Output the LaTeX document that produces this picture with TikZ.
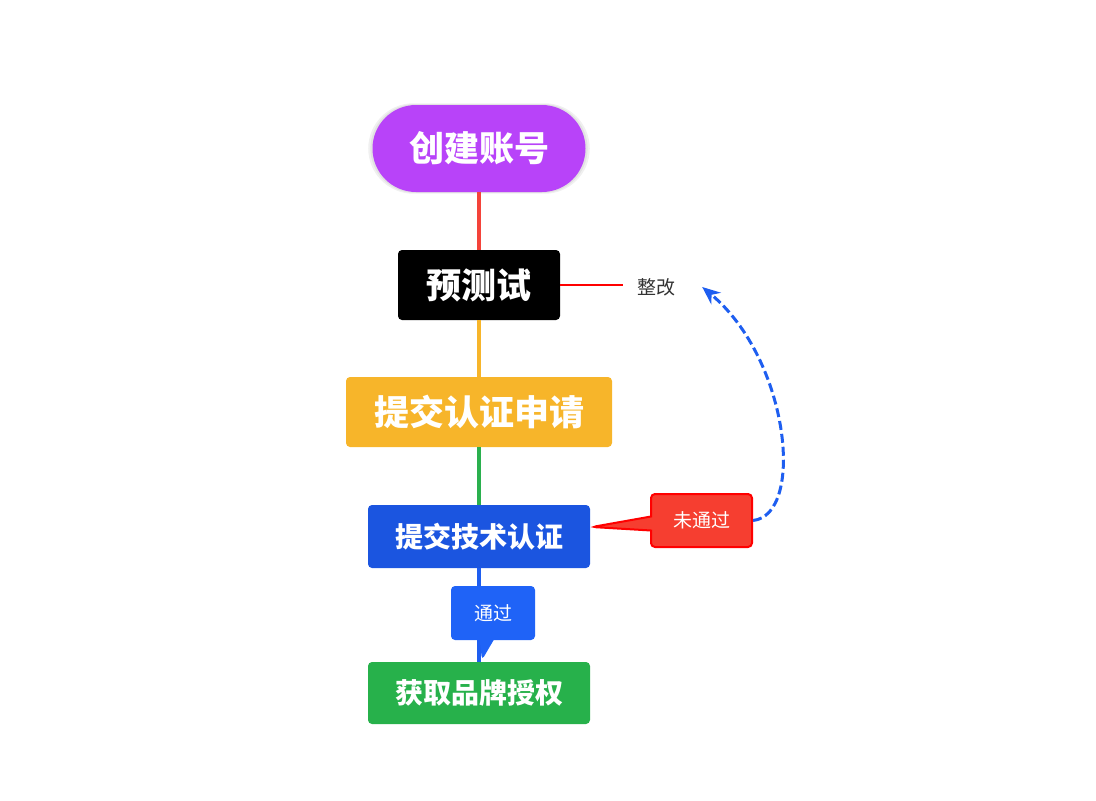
\documentclass[tikz,border=0pt]{standalone}
\usepackage{fontspec}
\newfontfamily\cjk{Noto Sans CJK SC}
\usetikzlibrary{arrows.meta,shapes.callouts,shadows}

\definecolor{acctpurple}{HTML}{B843F9}
\definecolor{linered}{HTML}{F4433A}
\definecolor{applyorange}{HTML}{F7B52A}
\definecolor{linegreen}{HTML}{2AB04E}
\definecolor{techblue}{HTML}{1B55E0}
\definecolor{lineblue}{HTML}{1E5EF0}
\definecolor{passblue}{HTML}{1F63F7}
\definecolor{brandgreen}{HTML}{27B14B}
\definecolor{failred}{HTML}{F63E30}
\definecolor{notegrey}{HTML}{333333}

\tikzset{
  stepbox/.style={rectangle,rounded corners=4pt,inner sep=0pt,text=white,
    font=\cjk\bfseries\fontsize{#1}{#1}\selectfont},
  link/.style={line width=4pt},
  tag/.style={rectangle callout,rounded corners=4pt,inner sep=0pt,text=white,
    font=\cjk\fontsize{19}{19}\selectfont}
}

\begin{document}
\begin{tikzpicture}[x=1pt,y=-1pt,>={Stealth[length=18pt,width=15pt]}]
	\useasboundingbox (0,0) rectangle (1096,801);
	% steps
	\node[stepbox=35,fill=acctpurple,rounded corners=43.5pt,minimum width=213pt,minimum height=87pt,
	  general shadow={fill=black,opacity=0.06,shadow scale=1.04},
	  general shadow={fill=black,opacity=0.06,shadow scale=1.02}] (acct) at (479,148.5) {创建账号};
	\node[stepbox=35,fill=black,minimum width=162pt,minimum height=70pt] (pretest) at (479,285) {预测试};
	\node[stepbox=35,fill=applyorange,minimum width=266pt,minimum height=70pt] (apply) at (479,412) {提交认证申请};
	\node[stepbox=28,fill=techblue,minimum width=222pt,minimum height=63pt] (tech) at (479,536.5) {提交技术认证};
	\node[stepbox=28,fill=brandgreen,minimum width=222pt,minimum height=62pt] (brand) at (479,693) {获取品牌授权};
	% links
	\draw[link,linered] (acct) -- (pretest);
	\draw[link,applyorange] (pretest) -- (apply);
	\draw[link,linegreen] (apply) -- (tech);
	\draw[link,lineblue] (tech) -- (brand);
	% note
	\node[text=notegrey,font=\cjk\fontsize{19}{19}\selectfont,inner xsep=14pt] (fix) at (656,287) {整改};
	\draw[red,line width=1.2pt] (pretest.east) -- (pretest.east -| fix.west);
	% tags
	\coordinate (passtip) at (482,660);
	\node[tag,fill=passblue,minimum width=84pt,minimum height=54pt,
	  callout absolute pointer={(passtip)},callout pointer width=14pt] (pass) at (493,613) {通过};
	\coordinate (failtip) at (592,527);
	\node[tag,fill=failred,draw=red,line width=2pt,minimum width=101pt,minimum height=53pt,
	  callout absolute pointer={(failtip)},callout pointer width=14pt] (fail) at (701.5,520.5) {未通过};
	\draw[->,lineblue,line width=3pt,dash pattern=on 9pt off 4pt]
	  (fail.east) .. controls (805,515) and (790,360) .. ([xshift=13pt]fix.east);
\end{tikzpicture}
\end{document}
